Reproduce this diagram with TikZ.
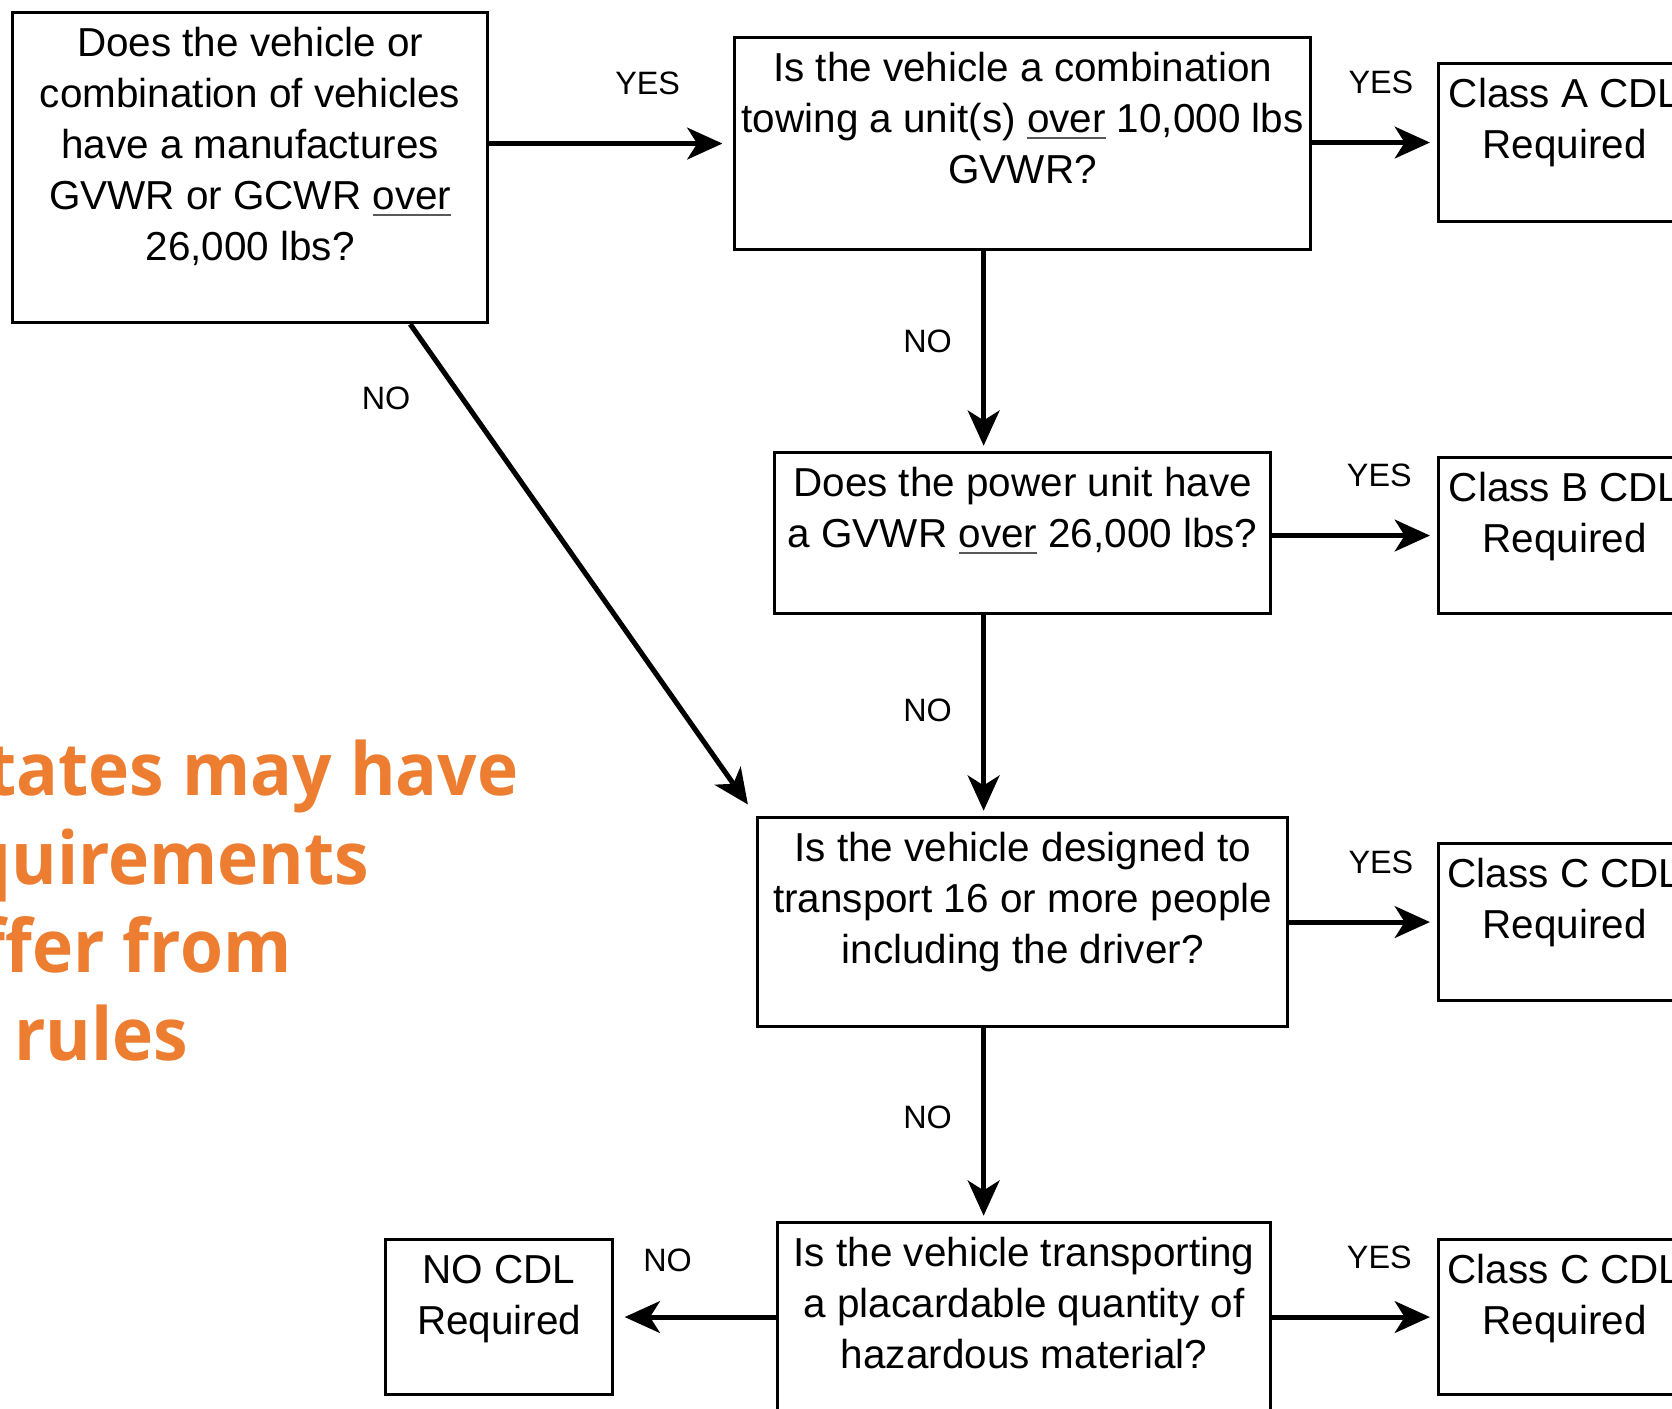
\documentclass[tikz,border=0pt]{standalone}
\usepackage{fontspec}
\setmainfont{Liberation Sans}
\newfontfamily\notefont{Open Sans}[FakeStretch=0.95]
\usetikzlibrary{arrows.meta,calc}
\definecolor{NoteClr}{HTML}{ED7D31}
\definecolor{RuleClr}{rgb}{0.35,0.35,0.35}
\newcommand\qtext[3]{\parbox[c][#2][t]{#1}{\centering\rule{0pt}{0.44cm}#3}}
\newcommand\ovr[1]{\setbox0\hbox{#1}\rlap{\color{RuleClr}\rule[-1.9pt]{\wd0}{0.65pt}}#1}

\begin{document}
\begin{tikzpicture}[x=0.01cm,y=-0.01cm,
  qbox/.style={draw,line width=0.85pt,anchor=north west,inner sep=0pt,font=\fontsize{11.5}{14.5}\selectfont},
  flow/.style={line width=1.45pt,-{Stealth[length=10pt,width=9pt,inset=2.8pt]},shorten >=2pt},
  yeslbl/.style={font=\fontsize{9.2}{11}\selectfont,inner sep=0pt,yshift=0.6cm},
  nolbl/.style={font=\fontsize{9.2}{11}\selectfont,inner sep=0pt},
  note/.style={font=\notefont\bfseries\fontsize{20.8}{25}\selectfont,text=NoteClr,anchor=base east,inner sep=0pt}]

\useasboundingbox (0,0) rectangle (1672,1408);
\fill[white] (0,0) rectangle (1672,1408);
\clip (0,0) rectangle (1672,1408);

% questions
\node[qbox] (q1) at (11,11) {\qtext{4.75cm}{3.10cm}{Does the vehicle or\\combination of vehicles\\have a manufactures\\GVWR or GCWR \ovr{over}\\26,000 lbs?}};
\node[qbox] (q2) at (733,36) {\qtext{5.76cm}{2.12cm}{Is the vehicle a combination\\towing a unit(s) \ovr{over} 10,000 lbs\\GVWR?}};
\node[qbox] (q3) at (773,451) {\qtext{4.96cm}{1.61cm}{Does the power unit have\\a GVWR \ovr{over} 26,000 lbs?}};
\node[qbox] (q4) at (756,816) {\qtext{5.30cm}{2.09cm}{Is the vehicle designed to\\transport 16 or more people\\including the driver?}};
\node[qbox] (q5) at (776,1221) {\qtext{4.93cm}{2.50cm}{Is the vehicle transporting\\a placardable quantity of\\hazardous material?}};

% results
\node[qbox] (cA) at (1437,62) {\qtext{2.52cm}{1.58cm}{Class A CDL\\Required}};
\node[qbox] (cB) at (1437,456) {\qtext{2.52cm}{1.56cm}{Class B CDL\\Required}};
\node[qbox] (cC) at (1437,842) {\qtext{2.52cm}{1.57cm}{Class C CDL\\Required}};
\node[qbox] (cC2) at (1437,1238) {\qtext{2.52cm}{1.55cm}{Class C CDL\\Required}};
\node[qbox] (none) at (384,1238) {\qtext{2.27cm}{1.55cm}{NO CDL\\Required}};

\draw[flow,shorten >=3pt] (q1.east |- q2.west) -- node[yeslbl,pos=.65]{YES} (q2.west);
\draw[flow] (q2.east |- cA.west) -- node[yeslbl,pos=.55]{YES} (cA.west);
\draw[flow] (q3.east |- cB.west) -- node[yeslbl,pos=.65]{YES} (cB.west);
\draw[flow] (q4.east |- cC.west) -- node[yeslbl,pos=.62]{YES} (cC.west);
\draw[flow] (q5.east |- cC2.west) -- node[yeslbl,pos=.65]{YES} (cC2.west);

\draw[flow,shorten >=1.5pt] ([xshift=-0.39cm]q2.south) -- node[nolbl,xshift=-0.56cm,yshift=0.1cm]{NO} ([xshift=-0.39cm]q2.south |- q3.north);
\draw[flow,shorten >=1.5pt] ([xshift=-0.39cm]q3.south) -- node[nolbl,xshift=-0.56cm,yshift=0.05cm]{NO} ([xshift=-0.39cm]q3.south |- q4.north);
\draw[flow,shorten >=1.5pt] ([xshift=-0.39cm]q4.south) -- node[nolbl,xshift=-0.56cm,yshift=0.07cm]{NO} ([xshift=-0.39cm]q4.south |- q5.north);
\draw[flow,shorten >=4pt] ([xshift=1.6cm]q1.south) -- node[nolbl,pos=.15,xshift=-0.76cm]{NO} (q4.north west);
\draw[flow,shorten >=3pt] (q5.west |- none.east) -- node[nolbl,pos=.67,yshift=0.57cm]{NO} (none.east);

% side note
\node[note] (n1) at (519,795) {tates may have};
\node[note] (n2) at (370,884) {quirements};
\node[note] (n3) at (292,972) {ffer from};
\node[note] (n4) at (189,1060) {rules};
\end{tikzpicture}
\end{document}
